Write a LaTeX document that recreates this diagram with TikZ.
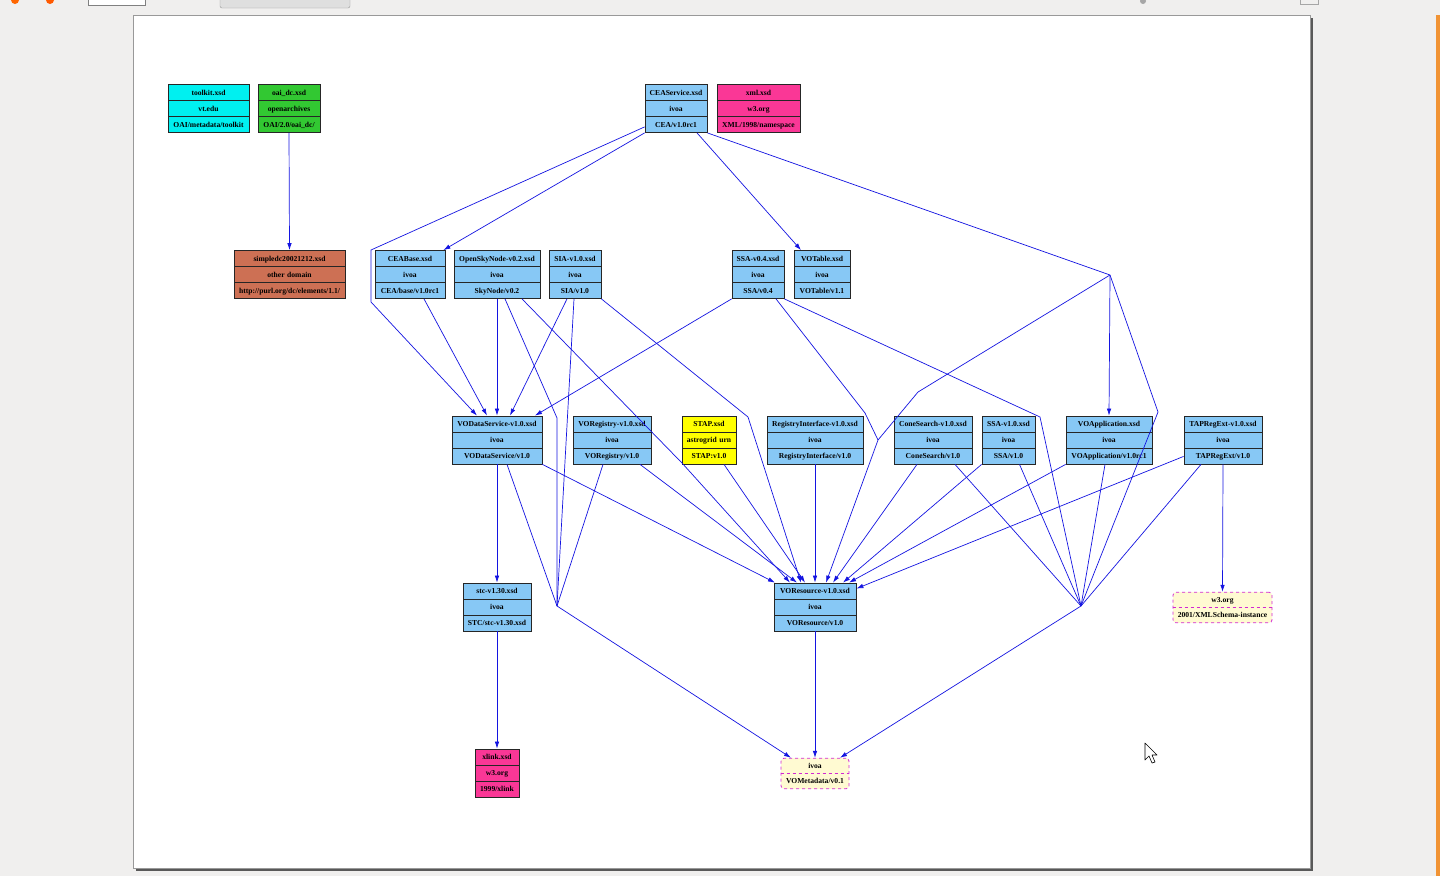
\documentclass[tikz,border=0pt]{standalone}
\usepackage{fontspec}
\setmainfont{Liberation Serif}
\usetikzlibrary{shapes.multipart,arrows.meta}
\definecolor{bggray}{RGB}{240,239,238}
\definecolor{edgeblue}{RGB}{20,20,225}
\definecolor{ccyan}{RGB}{0,240,240}
\definecolor{cgreen}{RGB}{50,200,50}
\definecolor{cblue}{RGB}{135,200,245}
\definecolor{cpink}{RGB}{250,55,150}
\definecolor{cbrown}{RGB}{205,112,84}
\definecolor{cyellow}{RGB}{255,255,0}
\definecolor{cpale}{RGB}{255,250,210}
\definecolor{cmag}{RGB}{210,40,210}
\newcommand{\recfont}{\fontsize{7.6}{8}\selectfont\bfseries}
\newcommand{\rt}[1]{\rule[-4.8pt]{0pt}{15.2pt}\makebox[0pt]{#1}}
\newcommand{\dt}[1]{\rule[-4.5pt]{0pt}{14.5pt}\makebox[0pt]{#1}}
\tikzset{
  recbox/.style={rectangle split, rectangle split parts=3, draw=black!85, line width=0.8pt,
    inner xsep=0pt, inner ysep=0pt, font=\recfont, align=center},
  dashbox/.style={rectangle split, rectangle split parts=2, rectangle split draw splits=false,
    draw=cmag, line width=0.8pt, dashed,
    rounded corners=3pt, fill=cpale, inner xsep=0pt, inner ysep=0pt, font=\recfont, align=center},
  divider/.style={draw=cmag, line width=0.8pt, dashed},
  edge/.style={draw=edgeblue, line width=0.7pt, -{Latex[length=7pt,width=4.5pt]}},
  link/.style={draw=edgeblue, line width=0.7pt}
}
\begin{document}
\begin{tikzpicture}[x=1pt,y=-1pt]
\useasboundingbox (0,0) rectangle (1440,876);
\fill[bggray] (0,0) rectangle (1440,876);
% toolbar remnants
\fill[orange!80!red] (15,0) circle (4);
\fill[orange!70!red] (50,0) circle (4);
\draw[gray,fill=white] (88,-3) rectangle (145,5);
\draw[gray!80,fill=gray!25,rounded corners=2pt] (220,-3) rectangle (350,8);
\draw[gray!70] (1300,-2) rectangle (1318,4);
\fill[gray!70] (1143,1) circle (3);
% right edge orange strip
\fill[orange!75!brown!85] (1436,15) rectangle (1440,876);
% page
\fill[black!65] (136,18) rectangle (1313,871);
\fill[white] (133,15) rectangle (1310,868);
\draw[black!40,line width=0.5pt] (133,15) rectangle (1310,868);

% ---- nodes row 1
\node[recbox,fill=ccyan,text width=81pt] (toolkit) at (208.5,108.5) {\rt{toolkit.xsd}\nodepart{two}\rt{vt.edu}\nodepart{three}\rt{OAI/metadata/toolkit}};
\node[recbox,fill=cgreen,text width=62pt] (oaidc) at (289,108.5) {\rt{oai\_dc.xsd}\nodepart{two}\rt{openarchives}\nodepart{three}\rt{OAI/2.0/oai\_dc/}};
\node[recbox,fill=cblue,text width=62pt] (ceaserv) at (676,108.5) {\rt{CEAService.xsd}\nodepart{two}\rt{ivoa}\nodepart{three}\rt{CEA/v1.0rc1}};
\node[recbox,fill=cpink,text width=83pt] (xml) at (758.5,108.5) {\rt{xml.xsd}\nodepart{two}\rt{w3.org}\nodepart{three}\rt{XML/1998/namespace}};
% ---- row 2
\node[recbox,fill=cbrown,text width=111pt] (simpledc) at (289.5,274.5) {\rt{simpledc20021212.xsd}\nodepart{two}\rt{other domain}\nodepart{three}\rt{http://purl.org/dc/elements/1.1/}};
\node[recbox,fill=cblue,text width=70pt] (ceabase) at (410,274.5) {\rt{CEABase.xsd}\nodepart{two}\rt{ivoa}\nodepart{three}\rt{CEA/base/v1.0rc1}};
\node[recbox,fill=cblue,text width=86pt] (osn) at (497,274.5) {\rt{OpenSkyNode-v0.2.xsd}\nodepart{two}\rt{ivoa}\nodepart{three}\rt{SkyNode/v0.2}};
\node[recbox,fill=cblue,text width=52pt] (sia) at (575,274.5) {\rt{SIA-v1.0.xsd}\nodepart{two}\rt{ivoa}\nodepart{three}\rt{SIA/v1.0}};
\node[recbox,fill=cblue,text width=52pt] (ssa04) at (758,274.5) {\rt{SSA-v0.4.xsd}\nodepart{two}\rt{ivoa}\nodepart{three}\rt{SSA/v0.4}};
\node[recbox,fill=cblue,text width=56pt] (votable) at (822,274.5) {\rt{VOTable.xsd}\nodepart{two}\rt{ivoa}\nodepart{three}\rt{VOTable/v1.1}};
% ---- row 3
\node[recbox,fill=cblue,text width=90pt] (vods) at (497,440) {\rt{VODataService-v1.0.xsd}\nodepart{two}\rt{ivoa}\nodepart{three}\rt{VODataService/v1.0}};
\node[recbox,fill=cblue,text width=78pt] (voreg) at (612,440) {\rt{VORegistry-v1.0.xsd}\nodepart{two}\rt{ivoa}\nodepart{three}\rt{VORegistry/v1.0}};
\node[recbox,fill=cyellow,text width=54pt] (stap) at (709,440) {\rt{STAP.xsd}\nodepart{two}\rt{astrogrid urn}\nodepart{three}\rt{STAP:v1.0}};
\node[recbox,fill=cblue,text width=96pt] (regint) at (815,440) {\rt{RegistryInterface-v1.0.xsd}\nodepart{two}\rt{ivoa}\nodepart{three}\rt{RegistryInterface/v1.0}};
\node[recbox,fill=cblue,text width=78pt] (cone) at (933,440) {\rt{ConeSearch-v1.0.xsd}\nodepart{two}\rt{ivoa}\nodepart{three}\rt{ConeSearch/v1.0}};
\node[recbox,fill=cblue,text width=53pt] (ssa10) at (1008.5,440) {\rt{SSA-v1.0.xsd}\nodepart{two}\rt{ivoa}\nodepart{three}\rt{SSA/v1.0}};
\node[recbox,fill=cblue,text width=86pt] (voapp) at (1109,440) {\rt{VOApplication.xsd}\nodepart{two}\rt{ivoa}\nodepart{three}\rt{VOApplication/v1.0rc1}};
\node[recbox,fill=cblue,text width=78pt] (tap) at (1223,440) {\rt{TAPRegExt-v1.0.xsd}\nodepart{two}\rt{ivoa}\nodepart{three}\rt{TAPRegExt/v1.0}};
% ---- row 4
\node[recbox,fill=cblue,text width=68pt] (stc) at (497,607) {\rt{stc-v1.30.xsd}\nodepart{two}\rt{ivoa}\nodepart{three}\rt{STC/stc-v1.30.xsd}};
\node[recbox,fill=cblue,text width=82pt] (vores) at (815,607) {\rt{VOResource-v1.0.xsd}\nodepart{two}\rt{ivoa}\nodepart{three}\rt{VOResource/v1.0}};
\node[dashbox,text width=99pt] (xsi) at (1222.5,607.5) {\dt{w3.org}\nodepart{two}\dt{2001/XMLSchema-instance}};
\draw[divider] (xsi.text split west) -- (xsi.text split east);
% ---- row 5
\node[recbox,fill=cpink,text width=44pt] (xlink) at (497,773) {\rt{xlink.xsd}\nodepart{two}\rt{w3.org}\nodepart{three}\rt{1999/xlink}};
\node[dashbox,text width=68pt] (vometa) at (815,773.5) {\dt{ivoa}\nodepart{two}\dt{VOMetadata/v0.1}};
\draw[divider] (vometa.text split west) -- (vometa.text split east);

% ---- junctions
\coordinate (jA) at (371,250);
\coordinate (jB) at (371,302);
\coordinate (jR) at (1110,275);
\coordinate (jR2) at (918,392);
\coordinate (jR3) at (1158,412);
\coordinate (jV) at (878,440);
\coordinate (jS) at (865,413);
\coordinate (jT) at (1040,417);
\coordinate (jO) at (557,418);
\coordinate (jL) at (557,606);
\coordinate (jRR) at (1081,606);
\coordinate (jP) at (682,463);
\coordinate (jQ) at (748,417);

% ---- edges
\draw[edge] (oaidc.south) -- (simpledc.north);
\draw[edge] (ceaserv.south west) -- ([xshift=-2pt]ceabase.north east);
\draw[edge] ([yshift=6pt]ceaserv.south west) -- (jA) -- (jB) -- ([xshift=-20pt]vods.north);
\draw[edge] ([xshift=21pt]ceaserv.south) -- ([xshift=-21pt]votable.north);
\draw[link] (ceaserv.south east) -- (jR);
\draw[edge] (jR) -- (voapp.north);
\draw[edge] (jR) -- (jR2) -- (jV) -- ([xshift=11pt]vores.north);
\draw[link] (jR) -- (jR3) -- (jRR);
\draw[edge] ([xshift=14pt]ceabase.south) -- ([xshift=-10pt]vods.north);
\draw[edge] (osn.south) -- (vods.north);
\draw[edge] ([xshift=-8pt]sia.south) -- ([xshift=13pt]vods.north);
\draw[edge] (ssa04.south west) -- ([xshift=38pt]vods.north);
\draw[link] ([xshift=8pt]osn.south) -- (jO) -- (jL);
\draw[link] ([xshift=-1pt]sia.south) -- (jL);
\draw[edge] ([xshift=25pt]osn.south) -- (jP) -- ([xshift=-25pt]vores.north);
\draw[edge] (sia.south east) -- (jQ) -- ([xshift=-14pt]vores.north);
\draw[link] ([xshift=18pt]ssa04.south) -- (jS) -- (jV);
\draw[link] (ssa04.south east) -- (jT) -- (jRR);
\draw[edge] (vods.south) -- (stc.north);
\draw[link] ([xshift=10pt]vods.south) -- (jL);
\draw[edge] (vods.south east) -- ([xshift=-40pt]vores.north);
\draw[link] ([xshift=-9pt]voreg.south) -- (jL);
\draw[edge] ([xshift=28pt]voreg.south) -- ([xshift=-18pt]vores.north);
\draw[edge] ([xshift=15pt]stap.south) -- ([xshift=-10pt]vores.north);
\draw[edge] (regint.south) -- (vores.north);
\draw[edge] ([xshift=-16pt]cone.south) -- ([xshift=18pt]vores.north);
\draw[link] ([xshift=22pt]cone.south) -- (jRR);
\draw[edge] (ssa10.south west) -- ([xshift=28pt]vores.north);
\draw[link] ([xshift=11pt]ssa10.south) -- (jRR);
\draw[edge] (voapp.south west) -- ([xshift=34pt]vores.north);
\draw[link] ([xshift=-4pt]voapp.south) -- (jRR);
\draw[edge] ([yshift=8pt]tap.south west) -- ([yshift=-6pt]vores.north east);
\draw[link] ([xshift=-22pt]tap.south) -- (jRR);
\draw[edge] (tap.south) -- (xsi.north);
\draw[edge] (jRR) -- ([xshift=25pt]vometa.north);
\draw[edge] (jL) -- ([xshift=-24pt]vometa.north);
\draw[edge] (vores.south) -- (vometa.north);
\draw[edge] (stc.south) -- (xlink.north);

% cursor
\draw[black,fill=white,line width=0.6pt,line join=round] (1145,743) -- (1145,760) -- (1149,756) -- (1152,763) -- (1155,762) -- (1152,755) -- (1157,755) -- cycle;
\end{tikzpicture}
\end{document}
